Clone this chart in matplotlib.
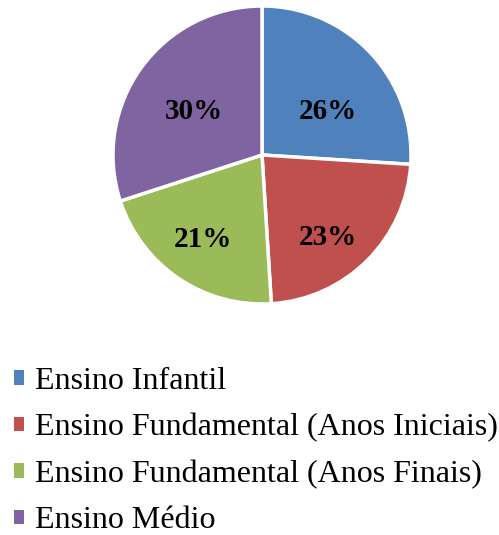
import matplotlib
matplotlib.use("Agg")
import matplotlib.pyplot as plt
from matplotlib.patches import Patch
import numpy as np

categories = ["Ensino Infantil", "Ensino Fundamental (Anos Iniciais)",
              "Ensino Fundamental (Anos Finais)", "Ensino Médio"]
values = [26, 23, 21, 30]
colors = ["#4F81BD", "#C0504D", "#9BBB59", "#8064A2"]
label_dist = [0.53, 0.71, 0.69, 0.54]
label_shift = [10.0, 6.5, 0.6, -3.3]  # degrees clockwise from slice middle

plt.rcParams['font.family'] = ['Liberation Serif', 'DejaVu Serif']

fig = plt.figure(figsize=(4.99, 5.35), dpi=100)
cx, cy, r = 262 / 499, 1 - 155 / 535, 149
ax = fig.add_axes([cx - r / 499, cy - r / 535, 2 * r / 499, 2 * r / 535])
wedges, texts, autotexts = ax.pie(values, colors=colors, startangle=90, counterclock=False,
                                  radius=1.0, autopct='%1.0f%%', pctdistance=0.6,
                                  wedgeprops=dict(edgecolor='white', linewidth=2.5),
                                  textprops=dict(fontsize=21, fontweight='bold', color='black'))
for w, t, d, s in zip(wedges, autotexts, label_dist, label_shift):
    ang = np.deg2rad((w.theta1 + w.theta2) / 2 - s)
    t.set_position((d * np.cos(ang), d * np.sin(ang)))
ax.set_xlim(-1, 1)
ax.set_ylim(-1, 1)
ax.set_aspect('equal')
ax.axis('off')

handles = [Patch(facecolor=c, edgecolor='none') for c in colors]
fig.legend(handles, categories, loc='upper left', bbox_to_anchor=(0.028, 1 - 367 / 535),
           frameon=False, fontsize=23, handlelength=0.32, handleheight=0.32,
           handletextpad=0.35, labelspacing=0.54, borderaxespad=0, borderpad=0)

fig.savefig("out.png", dpi=100)
